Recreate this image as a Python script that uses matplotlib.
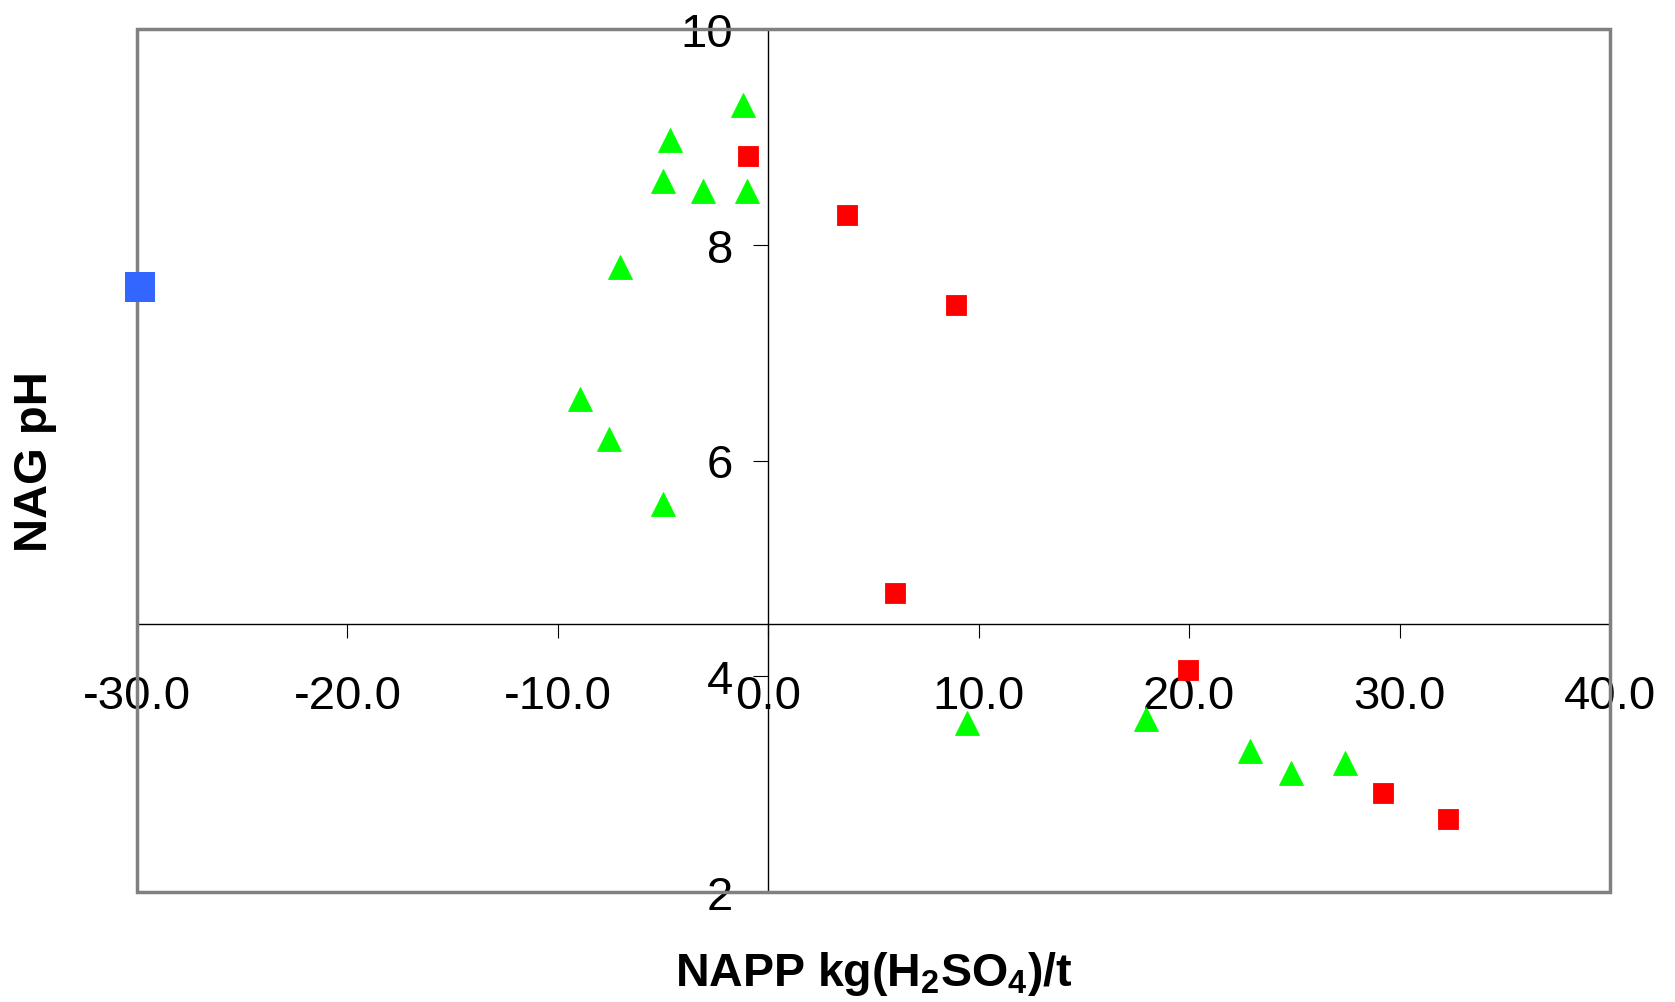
import matplotlib
matplotlib.use("Agg")
import matplotlib.pyplot as plt
from matplotlib.patches import Rectangle

plt.rcParams['font.family'] = ['Liberation Sans', 'DejaVu Sans']
plt.rcParams['mathtext.fontset'] = 'custom'
plt.rcParams['mathtext.rm'] = 'Liberation Sans:bold'
plt.rcParams['mathtext.bf'] = 'Liberation Sans:bold'
plt.rcParams['mathtext.it'] = 'Liberation Sans:bold'

# ---- data ----
blue_x = [-29.85]
blue_y = [7.61]

red_x = [-0.95, 3.76, 8.93, 6.0, 19.95, 29.2, 32.3]
red_y = [8.82, 8.28, 7.44, 4.77, 4.06, 2.92, 2.68]

green_x = [-1.2, -4.65, -5.0, -3.1, -1.0, -7.07, -8.95, -7.58, -5.0,
           9.45, 17.95, 22.9, 24.85, 27.4]
green_y = [9.30, 8.97, 8.59, 8.50, 8.50, 7.79, 6.57, 6.20, 5.60,
           3.57, 3.60, 3.31, 3.10, 3.20]

x_ticks = [-30, -20, -10, 0, 10, 20, 30, 40]
x_ticklabels = ["-30.0", "-20.0", "-10.0", "0.0", "10.0", "20.0", "30.0", "40.0"]
y_ticks = [2, 4, 6, 8, 10]
y_ticklabels = ["2", "4", "6", "8", "10"]

x_label = r"NAPP kg(H$_{2}$SO$_{4}$)/t"
y_label = "NAG pH"

# ---- figure ----
fig = plt.figure(figsize=(16.75, 10.03), dpi=100)
ax = fig.add_axes([137/1675, 1 - 893/1003, (1610-137)/1675, (893-30)/1003])

ax.set_xlim(-30, 40)
ax.set_ylim(2, 10)

for s in ['top', 'right']:
    ax.spines[s].set_visible(False)
ax.spines['left'].set_position(('data', 0))
ax.spines['bottom'].set_position(('data', 4.48))
for s in ['left', 'bottom']:
    ax.spines[s].set_color('black')
    ax.spines[s].set_linewidth(1.0)
    ax.spines[s].set_zorder(2)

frame = Rectangle((0, 0), 1, 1, transform=ax.transAxes, fill=False,
                  edgecolor='#808080', linewidth=2.5, clip_on=False, zorder=3)
ax.add_patch(frame)

ax.plot(green_x, green_y, linestyle='none', marker='^', markersize=17.5,
        color='#00FF00', markeredgecolor='#00FF00', markeredgewidth=0.6,
        clip_on=False, zorder=5)
ax.plot(red_x, red_y, linestyle='none', marker='s', markersize=14.5,
        color='#FF0000', markeredgecolor='#FF0000', markeredgewidth=0.6,
        clip_on=False, zorder=5)
ax.plot(blue_x, blue_y, linestyle='none', marker='s', markersize=21,
        color='#3366FF', markeredgecolor='#3366FF', markeredgewidth=0,
        clip_on=False, zorder=6)

ax.set_xticks(x_ticks)
ax.set_xticklabels(x_ticklabels)
ax.set_yticks(y_ticks)
ax.set_yticklabels(y_ticklabels)
ax.tick_params(axis='x', direction='out', length=10, width=0.8, pad=26,
               labelsize=34, colors='black')
ax.tick_params(axis='y', direction='out', length=10.5, width=0.8, pad=15,
               labelsize=34, colors='black')

ax.set_xlabel(x_label, fontsize=33.5, fontweight='bold')
ax.xaxis.set_label_coords(0.5, (893 - 974) / 863)
ax.xaxis.label.set_va('center')
ax.set_ylabel(y_label, fontsize=34, fontweight='bold')
ax.yaxis.set_label_coords((35 - 137) / 1473, 0.5)
ax.yaxis.label.set_va('center')

fig.savefig("out.png", dpi=100, facecolor='white')
